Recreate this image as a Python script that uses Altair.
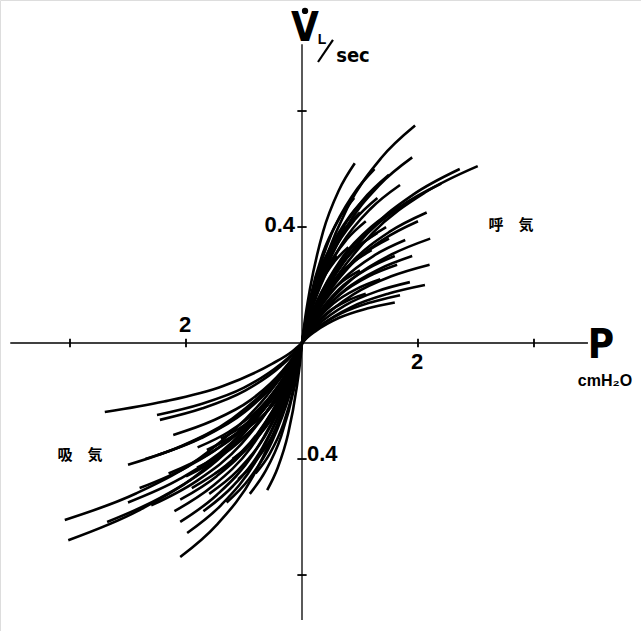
import altair as alt
import pandas as pd

# Expiration (呼気) loops: pressure P (cmH2O) and flow V (L/sec)
EXP_P = [
    [0, 0.046, 0.137, 0.364, 0.637, 0.91],
    [0, 0.098, 0.293, 0.78, 1.365, 1.95],
    [0, 0.095, 0.285, 0.76, 1.33, 1.90],
    [0, 0.152, 0.455, 1.212, 2.121, 3.03],
    [0, 0.136, 0.408, 1.088, 1.904, 2.72],
    [0, 0.085, 0.254, 0.676, 1.183, 1.69],
    [0, 0.108, 0.323, 0.86, 1.505, 2.15],
    [0, 0.11, 0.33, 0.88, 1.55, 2.21],
    [0, 0.089, 0.267, 0.712, 1.246, 1.78],
    [0, 0.082, 0.246, 0.656, 1.148, 1.64],
    [0, 0.106, 0.318, 0.848, 1.484, 2.12],
    [0, 0.093, 0.279, 0.744, 1.302, 1.86],
    [0, 0.085, 0.254, 0.676, 1.183, 1.69],
    [0, 0.08, 0.24, 0.64, 1.12, 1.60],
    [0, 0.075, 0.225, 0.60, 1.05, 1.50],
    [0, 0.065, 0.195, 0.52, 0.91, 1.30],
    [0, 0.055, 0.165, 0.44, 0.77, 1.10],
    [0, 0.073, 0.218, 0.58, 1.015, 1.45],
    [0, 0.06, 0.18, 0.48, 0.84, 1.20],
    [0, 0.05, 0.15, 0.40, 0.70, 1.00],
    [0, 0.12, 0.36, 0.96, 1.68, 2.40],
    [0, 0.098, 0.293, 0.78, 1.365, 1.95],
    [0, 0.10, 0.30, 0.80, 1.40, 2.00],
    [0, 0.038, 0.113, 0.30, 0.525, 0.75],
    [0, 0.063, 0.188, 0.50, 0.875, 1.25],
    [0, 0.08, 0.24, 0.64, 1.12, 1.60],
    [0, 0.068, 0.203, 0.54, 0.945, 1.35],
    [0, 0.045, 0.135, 0.36, 0.63, 0.9],
    [0, 0.05, 0.15, 0.4, 0.7, 1.0],
    [0, 0.06, 0.18, 0.48, 0.84, 1.2],
    [0, 0.085, 0.255, 0.68, 1.19, 1.7],
    [0, 0.075, 0.225, 0.6, 1.05, 1.5],
    [0, 0.065, 0.195, 0.52, 0.91, 1.3],
    [0, 0.04, 0.12, 0.32, 0.56, 0.8],
    [0, 0.095, 0.285, 0.76, 1.33, 1.9],
    [0, 0.11, 0.33, 0.88, 1.54, 2.2],
    [0, 0.055, 0.165, 0.44, 0.77, 1.1],
    [0, 0.03, 0.09, 0.24, 0.42, 0.6],
]
EXP_V = [
    [0, 0.074, 0.186, 0.384, 0.527, 0.62],
    [0, 0.09, 0.225, 0.465, 0.638, 0.75],
    [0, 0.077, 0.192, 0.397, 0.544, 0.64],
    [0, 0.073, 0.183, 0.378, 0.519, 0.61],
    [0, 0.072, 0.18, 0.372, 0.51, 0.60],
    [0, 0.065, 0.164, 0.338, 0.463, 0.545],
    [0, 0.054, 0.135, 0.279, 0.383, 0.45],
    [0, 0.043, 0.108, 0.223, 0.306, 0.36],
    [0, 0.043, 0.107, 0.22, 0.302, 0.355],
    [0, 0.032, 0.081, 0.167, 0.23, 0.27],
    [0, 0.024, 0.06, 0.124, 0.17, 0.20],
    [0, 0.025, 0.063, 0.13, 0.179, 0.21],
    [0, 0.02, 0.05, 0.102, 0.14, 0.165],
    [0, 0.017, 0.042, 0.087, 0.119, 0.14],
    [0, 0.07, 0.174, 0.36, 0.493, 0.58],
    [0, 0.06, 0.15, 0.31, 0.425, 0.50],
    [0, 0.05, 0.126, 0.26, 0.357, 0.42],
    [0, 0.048, 0.12, 0.248, 0.34, 0.40],
    [0, 0.038, 0.096, 0.198, 0.272, 0.32],
    [0, 0.03, 0.075, 0.155, 0.213, 0.25],
    [0, 0.066, 0.165, 0.341, 0.468, 0.55],
    [0, 0.06, 0.15, 0.31, 0.425, 0.50],
    [0, 0.05, 0.126, 0.26, 0.357, 0.42],
    [0, 0.048, 0.12, 0.248, 0.34, 0.40],
    [0, 0.072, 0.18, 0.372, 0.51, 0.60],
    [0, 0.036, 0.09, 0.186, 0.255, 0.30],
    [0, 0.026, 0.066, 0.136, 0.187, 0.22],
    [0, 0.06, 0.15, 0.31, 0.425, 0.5],
    [0, 0.054, 0.135, 0.279, 0.383, 0.45],
    [0, 0.062, 0.156, 0.322, 0.442, 0.52],
    [0, 0.056, 0.141, 0.291, 0.40, 0.47],
    [0, 0.043, 0.108, 0.223, 0.306, 0.36],
    [0, 0.046, 0.114, 0.236, 0.323, 0.38],
    [0, 0.04, 0.099, 0.205, 0.281, 0.33],
    [0, 0.036, 0.09, 0.186, 0.255, 0.30],
    [0, 0.032, 0.081, 0.167, 0.23, 0.27],
    [0, 0.02, 0.051, 0.105, 0.145, 0.17],
    [0, 0.036, 0.09, 0.186, 0.255, 0.30],
]

# Inspiration (吸気) loops
INS_P = [
    [0, -0.17, -0.51, -1.36, -2.38, -3.40],
    [0, -0.125, -0.375, -1.0, -1.75, -2.5],
    [0, -0.123, -0.368, -0.98, -1.715, -2.45],
    [0, -0.111, -0.333, -0.888, -1.554, -2.22],
    [0, -0.124, -0.372, -0.992, -1.736, -2.48],
    [0, -0.205, -0.614, -1.636, -2.863, -4.09],
    [0, -0.202, -0.605, -1.612, -2.821, -4.03],
    [0, -0.168, -0.504, -1.344, -2.352, -3.36],
    [0, -0.105, -0.315, -0.84, -1.47, -2.10],
    [0, -0.105, -0.315, -0.84, -1.47, -2.10],
    [0, -0.099, -0.297, -0.792, -1.386, -1.98],
    [0, -0.105, -0.315, -0.84, -1.47, -2.10],
    [0, -0.03, -0.09, -0.24, -0.42, -0.60],
    [0, -0.082, -0.246, -0.656, -1.148, -1.64],
    [0, -0.091, -0.272, -0.724, -1.267, -1.81],
    [0, -0.14, -0.42, -1.12, -1.96, -2.80],
    [0, -0.075, -0.225, -0.60, -1.05, -1.50],
    [0, -0.06, -0.18, -0.48, -0.84, -1.20],
    [0, -0.13, -0.39, -1.04, -1.82, -2.60],
    [0, -0.085, -0.255, -0.68, -1.19, -1.70],
    [0, -0.065, -0.195, -0.52, -0.91, -1.30],
    [0, -0.10, -0.30, -0.80, -1.40, -2.00],
    [0, -0.15, -0.45, -1.20, -2.10, -3.00],
    [0, -0.05, -0.15, -0.40, -0.70, -1.00],
    [0, -0.045, -0.135, -0.36, -0.63, -0.90],
    [0, -0.08, -0.24, -0.64, -1.12, -1.6],
    [0, -0.095, -0.285, -0.76, -1.33, -1.9],
    [0, -0.115, -0.345, -0.92, -1.61, -2.3],
    [0, -0.07, -0.21, -0.56, -0.98, -1.4],
    [0, -0.04, -0.12, -0.32, -0.56, -0.8],
    [0, -0.055, -0.165, -0.44, -0.77, -1.1],
    [0, -0.11, -0.33, -0.88, -1.54, -2.2],
    [0, -0.15, -0.45, -1.2, -2.1, -3.0],
    [0, -0.09, -0.27, -0.72, -1.26, -1.8],
    [0, -0.135, -0.405, -1.08, -1.89, -2.7],
]
INS_V = [
    [0, -0.029, -0.071, -0.148, -0.202, -0.238],
    [0, -0.03, -0.074, -0.154, -0.211, -0.248],
    [0, -0.032, -0.08, -0.164, -0.225, -0.265],
    [0, -0.038, -0.095, -0.197, -0.269, -0.317],
    [0, -0.046, -0.116, -0.239, -0.328, -0.386],
    [0, -0.073, -0.183, -0.378, -0.519, -0.61],
    [0, -0.082, -0.204, -0.422, -0.578, -0.68],
    [0, -0.074, -0.185, -0.383, -0.524, -0.617],
    [0, -0.074, -0.185, -0.383, -0.524, -0.617],
    [0, -0.065, -0.162, -0.335, -0.459, -0.54],
    [0, -0.079, -0.197, -0.406, -0.557, -0.655],
    [0, -0.089, -0.221, -0.458, -0.627, -0.738],
    [0, -0.061, -0.152, -0.314, -0.431, -0.507],
    [0, -0.044, -0.111, -0.229, -0.314, -0.369],
    [0, -0.052, -0.129, -0.267, -0.366, -0.43],
    [0, -0.06, -0.15, -0.31, -0.425, -0.50],
    [0, -0.054, -0.135, -0.279, -0.383, -0.45],
    [0, -0.048, -0.12, -0.248, -0.34, -0.40],
    [0, -0.067, -0.168, -0.347, -0.476, -0.56],
    [0, -0.07, -0.174, -0.36, -0.493, -0.58],
    [0, -0.066, -0.165, -0.341, -0.468, -0.55],
    [0, -0.055, -0.138, -0.285, -0.391, -0.46],
    [0, -0.05, -0.126, -0.26, -0.357, -0.42],
    [0, -0.036, -0.09, -0.186, -0.255, -0.30],
    [0, -0.062, -0.156, -0.322, -0.442, -0.52],
    [0, -0.062, -0.156, -0.322, -0.442, -0.52],
    [0, -0.06, -0.15, -0.31, -0.425, -0.5],
    [0, -0.054, -0.135, -0.279, -0.383, -0.45],
    [0, -0.04, -0.099, -0.205, -0.281, -0.33],
    [0, -0.054, -0.135, -0.279, -0.383, -0.45],
    [0, -0.056, -0.141, -0.291, -0.40, -0.47],
    [0, -0.07, -0.174, -0.36, -0.493, -0.58],
    [0, -0.066, -0.165, -0.341, -0.468, -0.55],
    [0, -0.043, -0.108, -0.223, -0.306, -0.36],
    [0, -0.048, -0.12, -0.248, -0.34, -0.40],
]

X_TICKS = [-4, -2, 2, 4]
Y_TICKS = [-0.8, -0.4, 0.4, 0.8]
X_AXIS = [-5.03, 4.93]
Y_AXIS = [-0.955, 1.03]

rows = []
for grp, PP, VV in (("E", EXP_P, EXP_V), ("I", INS_P, INS_V)):
    for k, (ps, vs) in enumerate(zip(PP, VV)):
        for i, (p, v) in enumerate(zip(ps, vs)):
            rows.append({"c": f"{grp}{k}", "i": i, "P": p, "V": v})
curves = pd.DataFrame(rows)

xs = alt.Scale(domain=[-5.207, 5.845], nice=False, zero=False)
ys = alt.Scale(domain=[-0.993, 1.1828], nice=False, zero=False)
X = lambda f: alt.X(f, type="quantitative", scale=xs, axis=None)
Y = lambda f: alt.Y(f, type="quantitative", scale=ys, axis=None)

lines = alt.Chart(curves).mark_line(color="black", strokeWidth=2.6, interpolate="monotone").encode(
    x=X("P"), y=Y("V"), detail="c:N", order="i:Q"
)

xaxis = alt.Chart(pd.DataFrame({"x": [X_AXIS[0]], "x2": [X_AXIS[1]], "y": [0]})).mark_rule(
    color="black", strokeWidth=1.3).encode(x=X("x"), x2="x2", y=Y("y"))
yaxis = alt.Chart(pd.DataFrame({"y": [Y_AXIS[0]], "y2": [Y_AXIS[1]], "x": [0]})).mark_rule(
    color="black", strokeWidth=1.3).encode(y=Y("y"), y2="y2", x=X("x"))

xt = pd.DataFrame({"x": X_TICKS, "y": [-0.015] * 4, "y2": [0.015] * 4})
xticks = alt.Chart(xt).mark_rule(color="black", strokeWidth=1.8).encode(x=X("x"), y=Y("y"), y2="y2")
yt = pd.DataFrame({"y": Y_TICKS, "x": [-0.08] * 4, "x2": [0.08] * 4})
yticks = alt.Chart(yt).mark_rule(color="black", strokeWidth=1.8).encode(y=Y("y"), x=X("x"), x2="x2")

# slash of the "L/sec" unit
slash = alt.Chart(pd.DataFrame({"x": [0.276], "x2": [0.534], "y": [0.969], "y2": [1.045]})).mark_rule(
    color="black", strokeWidth=2.2).encode(x=X("x"), x2="x2", y=Y("y"), y2="y2")

COND = "Liberation Sans Narrow, DejaVu Sans Condensed, Liberation Sans"

def label(txt, p, v, size, align="center", font="Liberation Sans", weight="bold"):
    return alt.Chart(pd.DataFrame({"P": [p], "V": [v], "t": [txt]})).mark_text(
        fontSize=size, font=font, fontWeight=weight, align=align, baseline="middle", color="black"
    ).encode(x=X("P"), y=Y("V"), text="t:N")

texts = [
    label("2", -2.017, 0.062, 22),
    label("2", 1.983, -0.066, 22),
    label("0.4", -0.12, 0.407, 22, align="right"),
    label("0.4", 0.086, -0.383, 22, align="left"),
    label("P", 5.155, -0.010, 40, font=COND),
    label("cmH₂O", 5.224, -0.131, 16),
    label("V", 0.052, 1.083, 40, font=COND),
    label("L", 0.345, 1.045, 14),
    label("sec", 0.879, 0.990, 20, font=COND),
    label("呼　気", 3.603, 0.407, 15, font="Noto Sans CJK JP", weight="bold"),
    label("吸　気", -3.828, -0.386, 15, font="Noto Sans CJK JP", weight="bold"),
]

dot = alt.Chart(pd.DataFrame({"P": [0.052], "V": [1.145]})).mark_point(
    filled=True, color="black", size=40, opacity=1).encode(x=X("P"), y=Y("V"))

chart = alt.layer(xaxis, yaxis, xticks, yticks, lines, slash, dot, *texts).properties(
    width=641, height=631, padding=0, autosize=alt.AutoSizeParams(type="none")
).configure_view(stroke=None).configure(background="white")

chart.save("out.html", embed_options={"renderer": "svg", "actions": False})
